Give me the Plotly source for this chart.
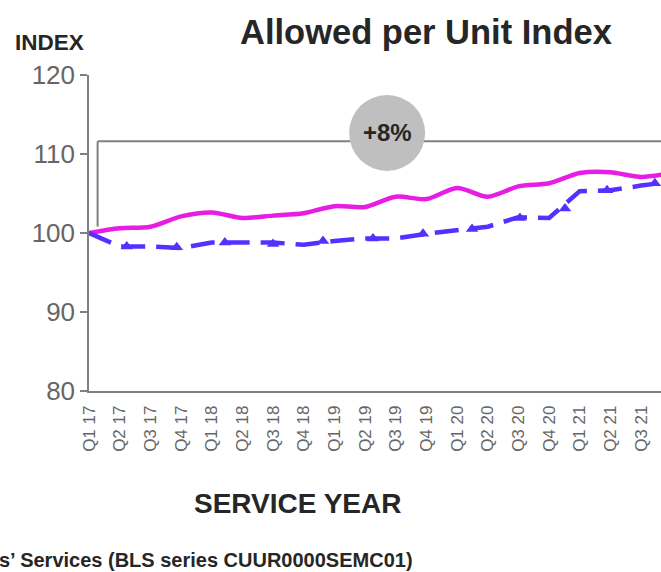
import plotly.graph_objects as go

# #
# Data
quarters = ['Q1 17', 'Q2 17', 'Q3 17', 'Q4 17', 'Q1 18', 'Q2 18', 'Q3 18', 'Q4 18',
            'Q1 19', 'Q2 19', 'Q3 19', 'Q4 19', 'Q1 20', 'Q2 20', 'Q3 20', 'Q4 20',
            'Q1 21', 'Q2 21', 'Q3 21', 'Q4 21']
allowed_index = [100.0, 100.6, 100.8, 102.1, 102.6, 101.9, 102.2, 102.5, 103.4, 103.3,
                 104.6, 104.3, 105.7, 104.6, 105.9, 106.3, 107.6, 107.7, 107.1, 107.6]
bls_index = [100.0, 98.3, 98.3, 98.1, 98.8, 98.8, 98.8, 98.5, 99.0, 99.3,
             99.3, 99.9, 100.3, 100.8, 102.0, 101.9, 105.3, 105.4, 106.0, 106.5]
# triangles sit between the quarters (position in quarters from Q1 17)
bls_marker_pos = [1.23, 2.86, 4.43, 6.0, 7.63, 9.26, 10.89, 12.49, 14.05, 15.52, 16.89, 18.45]
bls_marker_val = [98.3, 98.2, 98.8, 98.6, 99.0, 99.3, 99.9, 100.5, 101.9, 103.1, 105.4, 106.3]
growth_label = '+8%'

quarter_pos = list(range(len(quarters)))

# layout in pixels (661 x 572 window)
W, H = 661, 572
L, R, T, B = 89, 0, 75, 181
x_max = 18.65

def px_x(px):
    return (px - L) / (W - L - R)

def px_y(py):
    return (H - B - py) / (H - T - B)

sans = 'Liberation Sans, Arial'
dark = '#262626'
gray = '#666666'
axis_gray = '#808080'
magenta = '#E81DE3'
blue = '#5530FF'

fig = go.Figure()

fig.add_trace(go.Scatter(
    x=quarter_pos, y=allowed_index, mode='lines',
    line=dict(color=magenta, width=4.5, shape='spline', smoothing=0.8),
    showlegend=False, hoverinfo='skip'))

fig.add_trace(go.Scatter(
    x=quarter_pos, y=bls_index, mode='lines',
    line=dict(color=blue, width=4.5, dash='24px,11px'),
    showlegend=False, hoverinfo='skip'))

fig.add_trace(go.Scatter(
    x=bls_marker_pos, y=bls_marker_val, mode='markers',
    marker=dict(symbol='triangle-up', size=11, color=blue),
    showlegend=False, hoverinfo='skip'))

# bracket + growth bubble
fig.add_shape(type='line', x0=0.28, x1=0.28, y0=100.8, y1=111.6,
              line=dict(color=axis_gray, width=2))
fig.add_shape(type='line', x0=0.28, x1=x_max, y0=111.6, y1=111.6,
              line=dict(color=axis_gray, width=2))
fig.add_shape(type='circle', xsizemode='pixel', ysizemode='pixel',
              xanchor=9.72, yanchor=112.66, x0=-38, x1=38, y0=-38, y1=38,
              fillcolor='#BFBFBF', line=dict(width=0))
fig.add_annotation(x=9.72, y=112.66, text=f'<b>{growth_label}</b>', showarrow=False,
                   font=dict(family=sans, size=24, color=dark))

# titles
fig.add_annotation(xref='paper', yref='paper', x=px_x(426), y=px_y(32), xanchor='center', yanchor='middle',
                   text='<b>Allowed per Unit Index</b>', showarrow=False,
                   font=dict(family=sans, size=34.5, color=dark))
fig.add_annotation(xref='paper', yref='paper', x=px_x(13), y=px_y(42), xanchor='left', yanchor='middle',
                   text='<b>INDEX</b>', showarrow=False,
                   font=dict(family=sans, size=22.5, color=dark))
fig.add_annotation(xref='paper', yref='paper', x=px_x(297), y=px_y(503), xanchor='center', yanchor='middle',
                   text='<b>SERVICE YEAR</b>', showarrow=False,
                   font=dict(family=sans, size=28, color=dark))
fig.add_annotation(xref='paper', yref='paper', x=px_x(-3), y=px_y(560), xanchor='left', yanchor='middle',
                   text='<b>s’ Services (BLS series CUUR0000SEMC01)</b>', showarrow=False,
                   font=dict(family=sans, size=20, color=dark))

fig.update_xaxes(
    range=[0, x_max], tickvals=quarter_pos, ticktext=quarters, tickangle=-90,
    showgrid=False, zeroline=False, showline=True, linecolor=axis_gray, linewidth=1.5,
    ticks='', ticklabelstandoff=6, tickfont=dict(family=sans, size=17, color=gray))
fig.update_yaxes(
    range=[80, 120], tickvals=[80, 90, 100, 110, 120],
    showgrid=False, zeroline=False, showline=True, linecolor=axis_gray, linewidth=1.5,
    ticks='outside', ticklen=7, tickcolor=axis_gray, tickwidth=1.5,
    tickfont=dict(family=sans, size=26, color=gray))

fig.update_layout(
    width=W, height=H, margin=dict(l=L, r=R, t=T, b=B),
    plot_bgcolor='white', paper_bgcolor='white')

# page body has a default 8px margin; drop it so the figure fills the window
fig.write_html('out.html', config={'displayModeBar': False},
               post_script="document.body.style.margin='0';")
